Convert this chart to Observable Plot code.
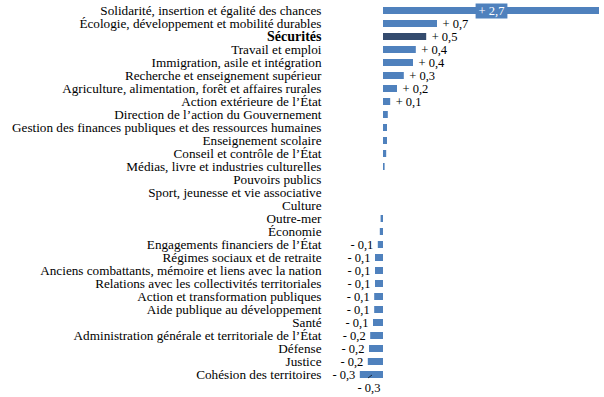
<!DOCTYPE html>
<html><head><meta charset="utf-8">
<script src="https://cdn.jsdelivr.net/npm/d3@7"></script>
<script src="https://cdn.jsdelivr.net/npm/@observablehq/plot@0.6"></script>
<style>
body{margin:0;background:#fff;}
svg{font-family:"Liberation Serif",serif;}
</style></head><body><div id="chart"></div>
<script>
const categories = [
  "Solidarité, insertion et égalité des chances",
  "Écologie, développement et mobilité durables",
  "Sécurités",
  "Travail et emploi",
  "Immigration, asile et intégration",
  "Recherche et enseignement supérieur",
  "Agriculture, alimentation, forêt et affaires rurales",
  "Action extérieure de l’État",
  "Direction de l’action du Gouvernement",
  "Gestion des finances publiques et des ressources humaines",
  "Enseignement scolaire",
  "Conseil et contrôle de l’État",
  "Médias, livre et industries culturelles",
  "Pouvoirs publics",
  "Sport, jeunesse et vie associative",
  "Culture",
  "Outre-mer",
  "Économie",
  "Engagements financiers de l’État",
  "Régimes sociaux et de retraite",
  "Anciens combattants, mémoire et liens avec la nation",
  "Relations avec les collectivités territoriales",
  "Action et transformation publiques",
  "Aide publique au développement",
  "Santé",
  "Administration générale et territoriale de l’État",
  "Défense",
  "Justice",
  "Cohésion des territoires"
];
const values = [2.7, 0.675, 0.54, 0.41, 0.375, 0.26, 0.175, 0.09, 0.06, 0.05, 0.05, 0.04, 0.02, 0, 0, 0,
  -0.03, -0.04, -0.065, -0.1, -0.1, -0.1, -0.11, -0.11, -0.125, -0.16, -0.175, -0.19, -0.29];
const valueLabels = ["+ 2,7", "+ 0,7", "+ 0,5", "+ 0,4", "+ 0,4", "+ 0,3", "+ 0,2", "+ 0,1", "", "", "", "", "", "", "", "",
  "", "", "- 0,1", "- 0,1", "- 0,1", "- 0,1", "- 0,1", "- 0,1", "- 0,1", "- 0,2", "- 0,2", "- 0,2", "- 0,3"];
const highlighted = "Sécurités";
const totalLabel = "- 0,3";
const totalValue = -0.3;

const rows = categories.map((c, i) => ({cat: c, value: values[i], label: valueLabels[i]}));
const blankRow = " ";
const domainY = [...categories, blankRow];
const blue = "#4f81bd", dark = "#344b6e";

const chart = Plot.plot({
  width: 604, height: 397,
  marginTop: 5, marginBottom: 4, marginLeft: 359, marginRight: 5,
  x: {domain: [-0.3, 2.7], axis: null},
  y: {domain: domainY, axis: null, paddingInner: 0.45, paddingOuter: 0},
  style: {fontFamily: "Liberation Serif, serif", fontSize: "12px", overflow: "visible"},
  marks: [
    Plot.barX(rows, {x: "value", y: "cat", fill: d => d.cat === highlighted ? dark : blue}),
    Plot.ruleX(categories, {x: 0, y: d => d, stroke: "#000", strokeWidth: 1.3}),
    Plot.text(rows.filter(d => d.cat !== highlighted), {x: 0, y: "cat", text: "cat", textAnchor: "end", dx: -62, fill: "#000", fontSize: 13.2}),
    Plot.text(rows.filter(d => d.cat === highlighted), {x: 0, y: "cat", text: "cat", textAnchor: "end", dx: -62, fill: "#000", fontSize: 14, fontWeight: "bold"}),
    Plot.text(rows.filter(d => d.label && d.value > 0 && d.value < 2), {x: "value", y: "cat", text: "label", textAnchor: "start", dx: 5, fill: "#000", fontSize: 12.5}),
    Plot.text(rows.filter(d => d.label && d.value < 0), {x: "value", y: "cat", text: "label", textAnchor: "end", dx: -5, fill: "#000", fontSize: 12.5}),
    Plot.text(rows.filter(d => d.value >= 2), {x: d => d.value / 2, y: "cat", text: "label", textAnchor: "middle", fill: "#fff", fontSize: 12.5, className: "biglabel"}),
    Plot.text([totalLabel], {x: totalValue, y: () => blankRow, text: d => d, textAnchor: "start", dx: -2, fill: "#000", fontSize: 12.5})
  ]
});
document.getElementById("chart").append(chart);

// background box behind the in-bar label, and the small leader line of the total label
const svg = d3.select(chart);
svg.selectAll("g.biglabel text").each(function() {
  const bb = this.getBBox();
  d3.select(this.parentNode).insert("rect", "text")
    .attr("x", bb.x - 3).attr("y", bb.y - 0.5).attr("width", bb.width + 6).attr("height", bb.height + 1)
    .attr("fill", blue).attr("transform", this.getAttribute("transform"));
});
const xs = chart.scale("x"), ys = chart.scale("y");
const lx = xs.apply(totalValue) + 9, ly = ys.apply(blankRow) - 6;
svg.append("line").attr("x1", lx).attr("y1", ly).attr("x2", lx + 4).attr("y2", ly - 3)
  .attr("stroke", "#000").attr("stroke-width", 0.7);
</script></body></html>
